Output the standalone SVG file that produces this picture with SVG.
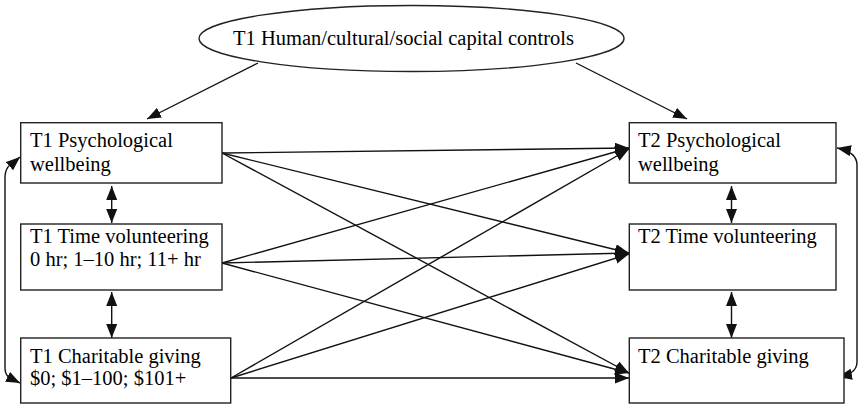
<svg xmlns="http://www.w3.org/2000/svg" width="858" height="404" viewBox="0 0 858 404">
<style>
.box{fill:#fff;stroke:#222;stroke-width:1.4}
.t{font-family:"Liberation Serif","Times New Roman",Times,serif;font-size:20.5px;fill:#000}
.c{fill:none;stroke:#111;stroke-width:1.4}
</style>
<defs>
<marker id="ah" markerUnits="userSpaceOnUse" markerWidth="15" markerHeight="12" refX="14" refY="5.5" orient="auto-start-reverse" viewBox="0 0 15 12">
<path d="M0,0 L14,5.5 L0,11 z" fill="#111"/>
</marker>
</defs>
<rect width="858" height="404" fill="#fff"/>
<g id="connectors">
<line class="c" x1="258" y1="63" x2="147" y2="119" marker-end="url(#ah)"/>
<line class="c" x1="576" y1="63" x2="687" y2="119" marker-end="url(#ah)"/>
<line class="c" x1="111.7" y1="186" x2="111.7" y2="223" marker-start="url(#ah)" marker-end="url(#ah)"/>
<line class="c" x1="111.7" y1="292" x2="111.7" y2="338" marker-start="url(#ah)" marker-end="url(#ah)"/>
<line class="c" x1="731.5" y1="186" x2="731.5" y2="223" marker-start="url(#ah)" marker-end="url(#ah)"/>
<line class="c" x1="731.5" y1="292" x2="731.5" y2="338" marker-start="url(#ah)" marker-end="url(#ah)"/>
<path class="c" d="M20,157 C12,164 5,165 5,178 L5,368 C5,378 12,379 20,383" marker-start="url(#ah)" marker-end="url(#ah)"/>
<path class="c" d="M837,148 C847,150 857,155 857,165 L857,362 C857,372 848,375 838,377" marker-start="url(#ah)" marker-end="url(#ah)"/>
<line class="c" x1="222" y1="153" x2="629" y2="148" marker-end="url(#ah)"/>
<line class="c" x1="222" y1="153" x2="629" y2="253" marker-end="url(#ah)"/>
<line class="c" x1="222" y1="153" x2="629" y2="373" marker-end="url(#ah)"/>
<line class="c" x1="222" y1="263" x2="629" y2="148" marker-end="url(#ah)"/>
<line class="c" x1="222" y1="263" x2="629" y2="253" marker-end="url(#ah)"/>
<line class="c" x1="222" y1="263" x2="629" y2="373" marker-end="url(#ah)"/>
<line class="c" x1="231" y1="378" x2="629" y2="149" marker-end="url(#ah)"/>
<line class="c" x1="231" y1="378" x2="629" y2="254" marker-end="url(#ah)"/>
<line class="c" x1="231" y1="378" x2="629" y2="378" marker-end="url(#ah)"/>
</g>
<g id="controls">
<ellipse class="box" cx="411.5" cy="38.5" rx="212.5" ry="33"/>
<text class="t" x="233" y="45">T1 Human/cultural/social capital controls</text>
</g>
<g id="t1-psych">
<rect class="box" x="20.7" y="122.7" width="201.3" height="60.3"/>
<text class="t" x="30" y="147">T1 Psychological</text>
<text class="t" x="30" y="171">wellbeing</text>
</g>
<g id="t1-time">
<rect class="box" x="20.7" y="224" width="201.3" height="66"/>
<text class="t" x="30" y="243">T1 Time volunteering</text>
<text class="t" x="30" y="266">0 hr; 1–10 hr; 11+ hr</text>
</g>
<g id="t1-giving">
<rect class="box" x="20.7" y="338" width="210" height="65"/>
<text class="t" x="30" y="362.5">T1 Charitable giving</text>
<text class="t" x="30" y="385">$0; $1–100; $101+</text>
</g>
<g id="t2-psych">
<rect class="box" x="629.3" y="122.7" width="206.7" height="60.3"/>
<text class="t" x="638" y="147">T2 Psychological</text>
<text class="t" x="638" y="170.5">wellbeing</text>
</g>
<g id="t2-time">
<rect class="box" x="629.3" y="224" width="206.7" height="66"/>
<text class="t" x="638" y="243">T2 Time volunteering</text>
</g>
<g id="t2-giving">
<rect class="box" x="629.3" y="338" width="214.7" height="65"/>
<text class="t" x="638" y="362.5">T2 Charitable giving</text>
</g>
</svg>
